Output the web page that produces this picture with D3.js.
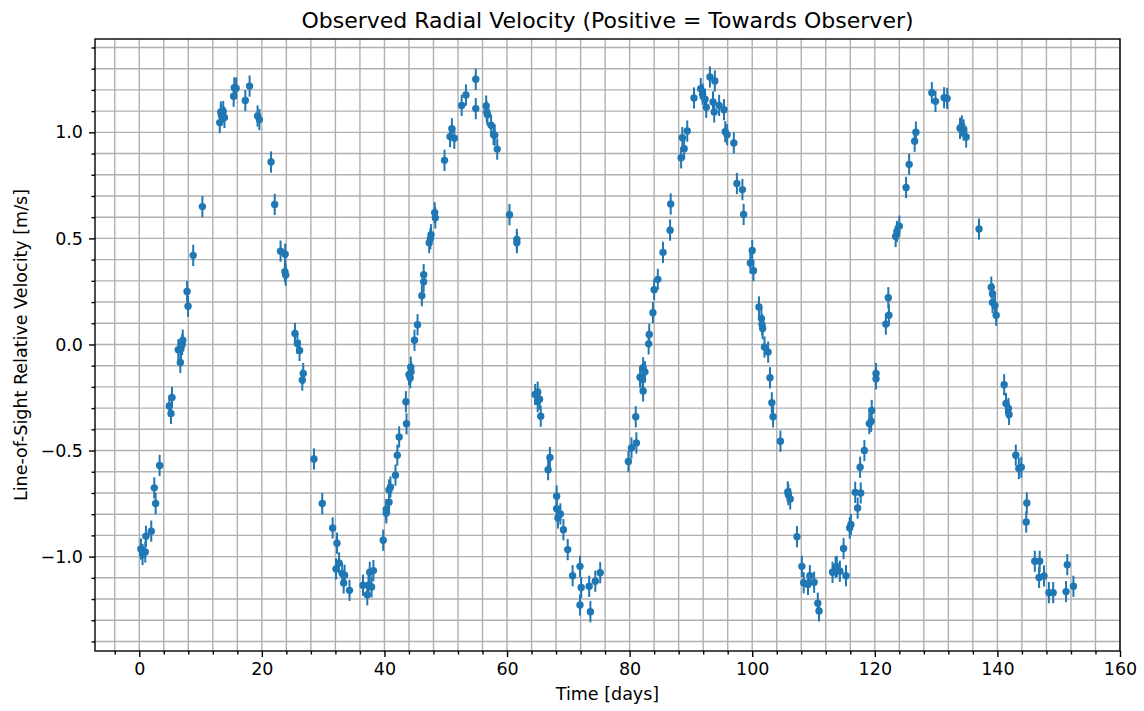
<!DOCTYPE html>
<html>
<head>
<meta charset="utf-8">
<script src="https://cdn.jsdelivr.net/npm/d3@7"></script>
<style>
  body { margin: 0; background: #fff; }
  text { font-family: "DejaVu Sans", sans-serif; fill: #000; }
</style>
</head>
<body>
<svg width="1144" height="711"></svg>
<script>
// observation times [days]
const days = [
  0.27, 0.54, 0.98, 1.09, 1.96, 2.45, 2.67, 3.32, 4.9, 5.18, 5.34, 6.37, 6.7, 6.8, 7.0, 7.1,
  7.8, 7.96, 8.8, 10.3, 13.13, 13.3, 13.4, 13.7, 13.9, 15.4, 15.5, 15.8, 17.3, 18.0, 19.3, 19.6,
  21.5, 22.1, 23.05, 23.8, 23.76, 23.9, 25.4, 25.8, 26.15, 26.75, 26.6, 28.5, 29.85, 31.55, 32.26, 32.1,
  32.6, 33.1, 33.5, 33.35, 34.3, 36.5, 37.2, 37.4, 37.6, 37.9, 38.2, 39.8, 40.3, 40.3, 40.75, 40.75,
  40.98, 41.8, 42.1, 42.4, 43.5, 43.6, 44.0, 44.2, 44.3, 44.35, 44.9, 45.4, 46.1, 46.4, 46.4, 47.3,
  47.5, 47.6, 48.2, 48.3, 49.8, 50.7, 51.0, 51.4, 52.6, 53.3, 54.9, 54.9, 56.6, 56.7, 56.8, 57.4,
  57.8, 58.0, 58.4, 60.4, 61.6, 61.6, 64.6, 65.0, 65.0, 65.3, 65.5, 66.7, 67.0, 68.1, 68.1, 68.3,
  68.7, 69.2, 69.9, 70.7, 71.9, 72.1, 71.9, 73.4, 73.6, 74.4, 75.2, 79.8, 80.3, 81.1, 81.0, 81.7,
  82.1, 82.2, 82.2, 82.5, 83.1, 83.2, 83.8, 84.0, 84.6, 85.45, 86.6, 86.7, 88.4, 88.6, 88.9, 89.4,
  90.5, 91.6, 91.9, 92.3, 92.5, 93.1, 93.6, 93.8, 93.9, 94.6, 95.4, 95.6, 95.9, 97.0, 97.5, 98.4,
  98.6, 99.7, 100.0, 100.2, 101.1, 101.5, 101.6, 101.7, 102.0, 102.6, 102.9, 103.2, 103.4, 104.6, 105.8, 105.9,
  106.2, 107.3, 108.1, 108.4, 109.1, 109.4, 110.1, 110.7, 110.9, 113.1, 113.6, 113.8, 114.3, 114.9, 115.3, 115.9,
  116.1, 116.8, 117.2, 117.6, 117.7, 118.3, 119.1, 119.4, 119.5, 120.2, 120.2, 121.8, 122.2, 122.3, 123.4, 123.6,
  124.0, 125.1, 125.6, 126.5, 126.7, 129.3, 129.9, 131.3, 131.8, 133.9, 134.2, 134.5, 134.9, 137.0, 139.0, 139.2,
  139.2, 139.6, 139.8, 141.1, 141.4, 141.8, 141.9, 143.0, 143.5, 143.9, 144.8, 144.7, 146.1, 146.9, 146.8, 147.6,
  148.4, 149.1, 151.2, 151.4, 152.4
];
// radial velocity [m/s]
const velocity = [
  -0.964, -0.99, -0.978, -0.904, -0.88, -0.676, -0.75, -0.57, -0.29, -0.325, -0.25, -0.025, -0.085, -0.02, 0.0, 0.02,
  0.25, 0.18, 0.42, 0.65, 1.046, 1.096, 1.08, 1.098, 1.07, 1.17, 1.21, 1.208, 1.15, 1.218, 1.077, 1.06,
  0.86, 0.66, 0.44, 0.425, 0.343, 0.327, 0.052, 0.005, -0.028, -0.137, -0.168, -0.54, -0.75, -0.865, -0.937, -1.058,
  -1.03, -1.08, -1.088, -1.124, -1.159, -1.135, -1.18, -1.135, -1.074, -1.143, -1.066, -0.923, -0.794, -0.778, -0.744, -0.686,
  -0.672, -0.616, -0.522, -0.436, -0.27, -0.374, -0.142, -0.157, -0.107, -0.129, 0.02, 0.093, 0.23, 0.296, 0.329, 0.48,
  0.499, 0.517, 0.621, 0.597, 0.868, 0.98, 1.017, 0.972, 1.127, 1.176, 1.25, 1.112, 1.124, 1.096, 1.083, 1.034,
  0.989, 0.987, 0.921, 0.612, 0.495, 0.48, -0.236, -0.225, -0.269, -0.258, -0.338, -0.59, -0.533, -0.715, -0.774, -0.818,
  -0.799, -0.873, -0.967, -1.09, -1.046, -1.146, -1.228, -1.14, -1.26, -1.116, -1.076, -0.552, -0.488, -0.464, -0.341, -0.154,
  -0.165, -0.11, -0.219, -0.129, 0.003, 0.047, 0.15, 0.258, 0.307, 0.434, 0.539, 0.662, 0.88, 0.975, 0.923, 1.006,
  1.162, 1.206, 1.18, 1.156, 1.118, 1.261, 1.143, 1.096, 1.242, 1.127, 1.107, 1.003, 0.989, 0.95, 0.759, 0.73,
  0.613, 0.384, 0.443, 0.348, 0.177, 0.122, 0.094, 0.075, -0.012, -0.036, -0.157, -0.275, -0.341, -0.456, -0.695, -0.708,
  -0.728, -0.906, -1.046, -1.123, -1.131, -1.09, -1.121, -1.22, -1.256, -1.074, -1.05, -1.046, -1.069, -0.962, -1.09, -0.865,
  -0.849, -0.697, -0.771, -0.579, -0.7, -0.5, -0.373, -0.362, -0.311, -0.137, -0.162, 0.096, 0.22, 0.138, 0.509, 0.533,
  0.558, 0.74, 0.849, 0.958, 1.001, 1.187, 1.146, 1.163, 1.16, 1.019, 1.03, 1.011, 0.978, 0.544, 0.27, 0.239,
  0.198, 0.184, 0.138, -0.19, -0.278, -0.302, -0.33, -0.522, -0.585, -0.579, -0.747, -0.837, -1.022, -1.022, -1.098, -1.091,
  -1.17, -1.17, -1.165, -1.038, -1.14
];
const velocityErr = 0.05;

const xMajorTicks = [0, 20, 40, 60, 80, 100, 120, 140, 160];
const yMajorTicks = [-1.0, -0.5, 0.0, 0.5, 1.0];

const svg = d3.select('svg');
const margin = {top: 39, right: 24, bottom: 60, left: 95};
const width = +svg.attr('width');
const height = +svg.attr('height');
const innerW = width - margin.left - margin.right;
const innerH = height - margin.top - margin.bottom;

const x = d3.scaleLinear().domain([-7.22, 160]).range([0, innerW]);
const y = d3.scaleLinear().domain([-1.445, 1.44]).range([innerH, 0]);

const xMinor = d3.range(-4, 161, 4);
const yMinor = d3.range(-14, 15).map(d => d / 10);

const g = svg.append('g').attr('transform', `translate(${margin.left},${margin.top})`);

// grid (major + minor, same style)
g.append('g').selectAll('line').data(xMinor).join('line')
  .attr('x1', d => x(d)).attr('x2', d => x(d))
  .attr('y1', 0).attr('y2', innerH)
  .attr('stroke', '#b0b0b0').attr('stroke-width', 1.4);
g.append('g').selectAll('line').data(yMinor).join('line')
  .attr('y1', d => y(d)).attr('y2', d => y(d))
  .attr('x1', 0).attr('x2', innerW)
  .attr('stroke', '#b0b0b0').attr('stroke-width', 1.4);

// axes
const fmtY = d => d3.format('.1f')(d).replace('-', '\u2212');
const xAxis = d3.axisBottom(x).tickValues(xMajorTicks).tickSize(6).tickPadding(6).tickFormat(d3.format('d'));
const yAxis = d3.axisLeft(y).tickValues(yMajorTicks).tickSize(6).tickPadding(6).tickFormat(fmtY);
const xMinorAxis = d3.axisBottom(x).tickValues(xMinor.filter(d => d % 20 !== 0)).tickSize(3.5).tickFormat('');
const yMinorAxis = d3.axisLeft(y).tickValues(yMinor.filter(d => Math.round(d * 10) % 5 !== 0)).tickSize(3.5).tickFormat('');

function styleAxis(sel) {
  sel.select('.domain').remove();
  sel.selectAll('.tick line').attr('stroke', '#000').attr('stroke-width', 1.4);
  sel.selectAll('.tick text').style('font-family', '"DejaVu Sans", sans-serif').style('font-size', '17.5px').attr('fill', '#000');
}
g.append('g').attr('transform', `translate(0,${innerH})`).call(xMinorAxis).call(styleAxis);
g.append('g').call(yMinorAxis).call(styleAxis);
g.append('g').attr('transform', `translate(0,${innerH})`).call(xAxis).call(styleAxis);
g.append('g').call(yAxis).call(styleAxis);

// data
const pts = days.map((d, i) => ({t: d, v: velocity[i]}));
g.append('g').selectAll('line').data(pts).join('line')
  .attr('x1', d => x(d.t)).attr('x2', d => x(d.t))
  .attr('y1', d => y(d.v - velocityErr)).attr('y2', d => y(d.v + velocityErr))
  .attr('stroke', '#1f77b4').attr('stroke-width', 2);
g.append('g').selectAll('circle').data(pts).join('circle')
  .attr('cx', d => x(d.t)).attr('cy', d => y(d.v)).attr('r', 3.7)
  .attr('fill', '#1f77b4');

// frame
g.append('rect').attr('width', innerW).attr('height', innerH)
  .attr('fill', 'none').attr('stroke', '#000').attr('stroke-width', 1.4);

// labels
svg.append('text').attr('x', margin.left + innerW / 2).attr('y', 28)
  .attr('text-anchor', 'middle').style('font-size', '22px')
  .text('Observed Radial Velocity (Positive = Towards Observer)');
svg.append('text').attr('x', margin.left + innerW / 2).attr('y', 700)
  .attr('text-anchor', 'middle').style('font-size', '17.5px')
  .text('Time [days]');
svg.append('text').attr('transform', `translate(27,${margin.top + innerH / 2}) rotate(-90)`)
  .attr('text-anchor', 'middle').style('font-size', '17.5px')
  .text('Line-of-Sight Relative Velocity [m/s]');
</script>
</body>
</html>
